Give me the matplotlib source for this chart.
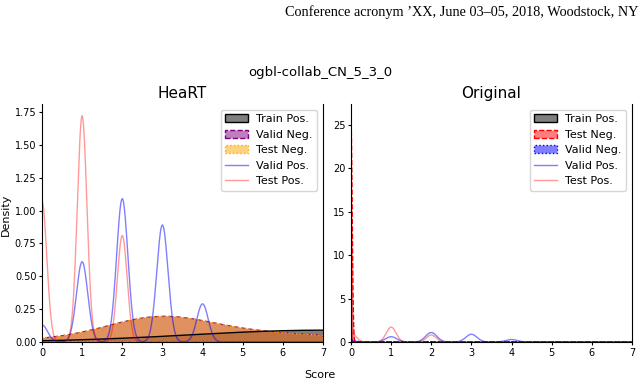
import numpy as np
import matplotlib
matplotlib.use("Agg")
import matplotlib.pyplot as plt
from matplotlib.patches import Patch
from matplotlib.lines import Line2D

# Score values where the positive-edge densities peak (common neighbours count)
scores = [0, 1, 2, 3, 4]
valid_pos_peaks = [0.13, 0.61, 1.09, 0.89, 0.29]
test_pos_peaks = [1.07, 1.72, 0.81, 0.0, 0.0]
valid_pos_bw = 0.14
test_pos_bw = 0.12

# HeaRT negatives / train positives: broad kde components (centre, peak, bandwidth)
heart_neg_centers = [2.9, 4.5]
heart_neg_peaks = [0.13, 0.075]
heart_neg_bw = [1.25, 2.8]
train_pos_centers = [7.0]
train_pos_peaks = [0.09]
train_pos_bw = [3.3]

# Original negatives: spikes at score 0
orig_test_neg_centers = [0.0]
orig_test_neg_peaks = [25.3]
orig_test_neg_bw = [0.03]
orig_valid_neg_centers = [0.0]
orig_valid_neg_peaks = [0.35]
orig_valid_neg_bw = [0.03]
orig_train_pos_centers = [0.0]
orig_train_pos_peaks = [25.0]
orig_train_pos_bw = [0.004]

header = "Conference acronym \u2019XX, June 03\u201305, 2018, Woodstock, NY"


def kde_curve(x, centers, peaks, bws):
    y = np.zeros_like(x)
    for c, h, b in zip(centers, peaks, bws):
        y += h * np.exp(-0.5 * ((x - c) / b) ** 2)
    return y


x = np.linspace(0, 7, 7001)
valid_pos = kde_curve(x, scores, valid_pos_peaks, [valid_pos_bw] * 5)
test_pos = kde_curve(x, scores, test_pos_peaks, [test_pos_bw] * 5)

fig = plt.figure(figsize=(6.4, 3.79), dpi=100)
fig.text(0.997, 0.968, header, ha="right", va="center",
         family="Liberation Serif", fontsize=10.3)
fig.text(0.5, 0.81, "ogbl-collab_CN_5_3_0", ha="center", va="center", fontsize=9.5)
fig.text(0.5, 0.01, "Score", ha="center", va="center", fontsize=8)
fig.text(0.009, 0.432, "Density", ha="center", va="center", rotation=90, fontsize=8)

ax1 = fig.add_axes([0.0656, 0.0976, 0.439, 0.628])
ax2 = fig.add_axes([0.5484, 0.0976, 0.439, 0.628])

# HeaRT panel
train = kde_curve(x, train_pos_centers, train_pos_peaks, train_pos_bw)
neg = kde_curve(x, heart_neg_centers, heart_neg_peaks, heart_neg_bw)
ax1.fill_between(x, train, color="black", alpha=0.5, lw=0)
ax1.plot(x, train, color="black", lw=1)
ax1.fill_between(x, neg, facecolor=(0.5, 0, 0.5, 0.5), edgecolor="purple", ls="--", lw=1)
ax1.fill_between(x, neg, facecolor=(1, 0.65, 0, 0.5), edgecolor="orange", ls=":", lw=1)
ax1.plot(x, valid_pos, color="blue", alpha=0.5, lw=1)
ax1.plot(x, test_pos, color="red", alpha=0.4, lw=1)
ax1.set_xlim(0, 7)
ax1.set_ylim(0, 1.81)
ax1.set_yticks(np.arange(0, 1.76, 0.25))
ax1.set_title("HeaRT", fontsize=11, pad=4)
ax1.legend(handles=[
    Patch(facecolor=(0, 0, 0, 0.5), edgecolor="black", label="Train Pos."),
    Patch(facecolor=(0.5, 0, 0.5, 0.5), edgecolor="purple", ls="--", label="Valid Neg."),
    Patch(facecolor=(1, 0.65, 0, 0.5), edgecolor="orange", ls=":", label="Test Neg."),
    Line2D([], [], color="blue", alpha=0.5, lw=1, label="Valid Pos."),
    Line2D([], [], color="red", alpha=0.4, lw=1, label="Test Pos."),
], loc="upper right", fontsize=8)

# Original panel
train_o = kde_curve(x, orig_train_pos_centers, orig_train_pos_peaks, orig_train_pos_bw)
test_neg_o = kde_curve(x, orig_test_neg_centers, orig_test_neg_peaks, orig_test_neg_bw)
valid_neg_o = kde_curve(x, orig_valid_neg_centers, orig_valid_neg_peaks, orig_valid_neg_bw)
ax2.fill_between(x, train_o, facecolor=(0, 0, 0, 0.5), edgecolor="black", lw=0.6)
ax2.fill_between(x, test_neg_o, facecolor=(1, 0, 0, 0.5), edgecolor="red", ls="--", lw=1)
ax2.fill_between(x, valid_neg_o, facecolor=(0, 0, 1, 0.5), edgecolor="blue", ls=":", lw=1)
ax2.plot(x, valid_pos, color="blue", alpha=0.5, lw=1)
ax2.plot(x, test_pos, color="red", alpha=0.4, lw=1)
ax2.set_xlim(0, 7)
ax2.set_ylim(0, 27.4)
ax2.set_yticks([0, 5, 10, 15, 20, 25])
ax2.set_title("Original", fontsize=11, pad=4)
ax2.legend(handles=[
    Patch(facecolor=(0, 0, 0, 0.5), edgecolor="black", label="Train Pos."),
    Patch(facecolor=(1, 0, 0, 0.5), edgecolor="red", ls="--", label="Test Neg."),
    Patch(facecolor=(0, 0, 1, 0.5), edgecolor="blue", ls=":", label="Valid Neg."),
    Line2D([], [], color="blue", alpha=0.5, lw=1, label="Valid Pos."),
    Line2D([], [], color="red", alpha=0.4, lw=1, label="Test Pos."),
], loc="upper right", fontsize=8)

for ax in (ax1, ax2):
    ax.spines["top"].set_visible(False)
    ax.tick_params(labelsize=7, length=2.5, pad=1.5)
    ax.set_xticks(range(8))

fig.savefig("out.png", dpi=100)
